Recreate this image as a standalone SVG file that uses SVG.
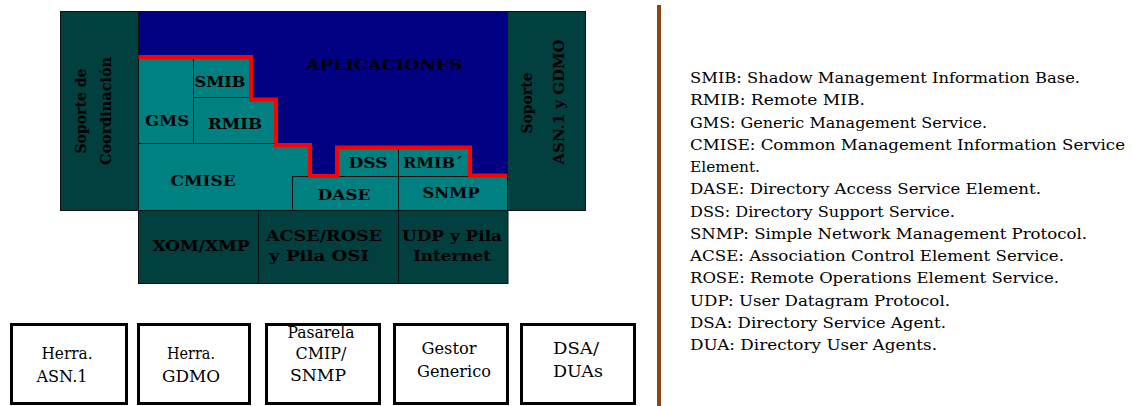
<svg xmlns="http://www.w3.org/2000/svg" width="1132" height="406" viewBox="0 0 1132 406">
<style>
.dark{fill:#023f3f;stroke:#111;stroke-width:1}
.teal{fill:#008080;stroke:#111;stroke-width:1}
.blue{fill:#000080}
.bl{font-family:'DejaVu Serif','Liberation Serif',serif;font-weight:bold;font-size:15px;fill:#000;text-anchor:middle}
.tool{fill:#fff;stroke:#000;stroke-width:3}
.tt{font-family:'DejaVu Serif','Liberation Serif',serif;font-size:16px;fill:#000;text-anchor:middle}
.lg{font-family:'DejaVu Serif','Liberation Serif',serif;font-size:15px;fill:#000}
.red{fill:none;stroke:#ff0000;stroke-width:4;stroke-linejoin:miter}
</style>
<rect width="1132" height="406" fill="#fff"/>

<g id="soporte-coordinacion">
<rect class="dark" x="60.5" y="11.5" width="78" height="199"/>
<text class="bl" transform="translate(86,111) rotate(-90)" textLength="85" lengthAdjust="spacingAndGlyphs">Soporte de</text>
<text class="bl" transform="translate(111,111) rotate(-90)" textLength="108" lengthAdjust="spacingAndGlyphs">Coordinación</text>
</g>

<g id="soporte-asn1">
<rect class="dark" x="507.5" y="11.5" width="78" height="199"/>
<text class="bl" transform="translate(532,103) rotate(-90)" textLength="61" lengthAdjust="spacingAndGlyphs">Soporte</text>
<text class="bl" transform="translate(564,102) rotate(-90)" textLength="125" lengthAdjust="spacingAndGlyphs">ASN.1 y GDMO</text>
</g>

<g id="aplicaciones">
<rect class="blue" x="138.5" y="11.5" width="369" height="199" stroke="#111" stroke-width="1"/>
<text class="bl" x="384" y="70" textLength="156" lengthAdjust="spacingAndGlyphs">APLICACIONES</text>
</g>

<g id="teal-area">
<polygon fill="#008080" points="138.5,57 251,57 251,99.5 276,99.5 276,145 310,145 310,176 337,176 337,147.5 470,147.5 470,175.5 507.5,175.5 507.5,210.5 138.5,210.5"/>
</g>

<g id="gms">
<rect class="teal" x="138.5" y="57.5" width="55" height="86"/>
<text class="bl" x="167" y="126" textLength="44" lengthAdjust="spacingAndGlyphs">GMS</text>
</g>
<g id="smib">
<rect class="teal" x="193.5" y="57.5" width="57.5" height="40"/>
<text class="bl" x="220" y="87" textLength="51" lengthAdjust="spacingAndGlyphs">SMIB</text>
</g>
<g id="rmib">
<rect class="teal" x="193.5" y="97.5" width="82.5" height="46"/>
<text class="bl" x="235" y="129" textLength="54" lengthAdjust="spacingAndGlyphs">RMIB</text>
</g>
<g id="cmise">
<polygon class="teal" points="138.5,143.5 276,143.5 310,143.5 310,176.5 292.5,176.5 292.5,210.5 138.5,210.5"/>
<text class="bl" x="203" y="186" textLength="65" lengthAdjust="spacingAndGlyphs">CMISE</text>
</g>
<g id="dss">
<rect class="teal" x="337" y="147.5" width="61.5" height="29"/>
<text class="bl" x="368" y="168" textLength="39" lengthAdjust="spacingAndGlyphs">DSS</text>
</g>
<g id="rmib2">
<rect class="teal" x="398.5" y="147.5" width="71.5" height="29"/>
<text class="bl" x="433" y="168" textLength="60" lengthAdjust="spacingAndGlyphs">RMIB´</text>
</g>
<g id="dase">
<rect class="teal" x="292.5" y="176.5" width="106" height="34"/>
<text class="bl" x="344" y="200" textLength="53" lengthAdjust="spacingAndGlyphs">DASE</text>
</g>
<g id="snmp">
<rect class="teal" x="398.5" y="176.5" width="109" height="34"/>
<text class="bl" x="451" y="198" textLength="57" lengthAdjust="spacingAndGlyphs">SNMP</text>
</g>

<g id="xom-xmp">
<rect class="dark" x="138.5" y="210.5" width="120" height="73"/>
<text class="bl" x="201" y="251" textLength="97" lengthAdjust="spacingAndGlyphs">XOM/XMP</text>
</g>
<g id="acse-rose">
<rect class="dark" x="258.5" y="210.5" width="140" height="73"/>
<text class="bl" x="324" y="241" textLength="116" lengthAdjust="spacingAndGlyphs">ACSE/ROSE</text>
<text class="bl" x="319" y="261" textLength="100" lengthAdjust="spacingAndGlyphs">y Pila OSI</text>
</g>
<g id="udp-internet">
<rect class="dark" x="398.5" y="210.5" width="109.5" height="73"/>
<text class="bl" x="452" y="241" textLength="100" lengthAdjust="spacingAndGlyphs">UDP y Pila</text>
<text class="bl" x="452" y="261" textLength="78" lengthAdjust="spacingAndGlyphs">Internet</text>
</g>

<g id="connectors">
<polyline class="red" points="138.5,57 251,57 251,99.5 276,99.5 276,145 310,145 310,176 337,176 337,147.5 470,147.5 470,175.5 507.5,175.5"/>
<line x1="659" y1="5" x2="659" y2="406" stroke="#8b4513" stroke-width="4"/>
</g>

<g id="herra-asn1">
<rect class="tool" x="11.5" y="324.5" width="115" height="79"/>
<text class="tt" x="67" y="359" textLength="51" lengthAdjust="spacingAndGlyphs">Herra.</text>
<text class="tt" x="62" y="382" textLength="51" lengthAdjust="spacingAndGlyphs">ASN.1</text>
</g>
<g id="herra-gdmo">
<rect class="tool" x="138.5" y="324.5" width="111" height="79"/>
<text class="tt" x="191" y="359" textLength="48" lengthAdjust="spacingAndGlyphs">Herra.</text>
<text class="tt" x="191" y="382" textLength="58" lengthAdjust="spacingAndGlyphs">GDMO</text>
</g>
<g id="pasarela">
<rect class="tool" x="266.5" y="324.5" width="113" height="79"/>
<text class="tt" x="321" y="338" textLength="67" lengthAdjust="spacingAndGlyphs">Pasarela</text>
<text class="tt" x="321" y="359" textLength="51" lengthAdjust="spacingAndGlyphs">CMIP/</text>
<text class="tt" x="318" y="381" textLength="56" lengthAdjust="spacingAndGlyphs">SNMP</text>
</g>
<g id="gestor">
<rect class="tool" x="394.5" y="324.5" width="113" height="79"/>
<text class="tt" x="449" y="354" textLength="55" lengthAdjust="spacingAndGlyphs">Gestor</text>
<text class="tt" x="454" y="377" textLength="74" lengthAdjust="spacingAndGlyphs">Generico</text>
</g>
<g id="dsa-duas">
<rect class="tool" x="521.5" y="324.5" width="113" height="79"/>
<text class="tt" x="576" y="354" textLength="46" lengthAdjust="spacingAndGlyphs">DSA/</text>
<text class="tt" x="578" y="377" textLength="50" lengthAdjust="spacingAndGlyphs">DUAs</text>
</g>

<g id="legend">
<text class="lg" x="690" y="83" textLength="390" lengthAdjust="spacingAndGlyphs">SMIB: Shadow Management Information Base.</text>
<text class="lg" x="690" y="105.3" textLength="175" lengthAdjust="spacingAndGlyphs">RMIB: Remote MIB.</text>
<text class="lg" x="690" y="127.5" textLength="297" lengthAdjust="spacingAndGlyphs">GMS: Generic Management Service.</text>
<text class="lg" x="690" y="149.8" textLength="435" lengthAdjust="spacingAndGlyphs">CMISE: Common Management Information Service</text>
<text class="lg" x="690" y="172" textLength="70" lengthAdjust="spacingAndGlyphs">Element.</text>
<text class="lg" x="690" y="194.3" textLength="351" lengthAdjust="spacingAndGlyphs">DASE: Directory Access Service Element.</text>
<text class="lg" x="690" y="216.5" textLength="265" lengthAdjust="spacingAndGlyphs">DSS: Directory Support Service.</text>
<text class="lg" x="690" y="238.8" textLength="397" lengthAdjust="spacingAndGlyphs">SNMP: Simple Network Management Protocol.</text>
<text class="lg" x="690" y="261" textLength="374" lengthAdjust="spacingAndGlyphs">ACSE: Association Control Element Service.</text>
<text class="lg" x="690" y="283.3" textLength="369" lengthAdjust="spacingAndGlyphs">ROSE: Remote Operations Element Service.</text>
<text class="lg" x="690" y="305.5" textLength="260" lengthAdjust="spacingAndGlyphs">UDP: User Datagram Protocol.</text>
<text class="lg" x="690" y="327.8" textLength="256" lengthAdjust="spacingAndGlyphs">DSA: Directory Service Agent.</text>
<text class="lg" x="690" y="350" textLength="247" lengthAdjust="spacingAndGlyphs">DUA: Directory User Agents.</text>
</g>
</svg>
